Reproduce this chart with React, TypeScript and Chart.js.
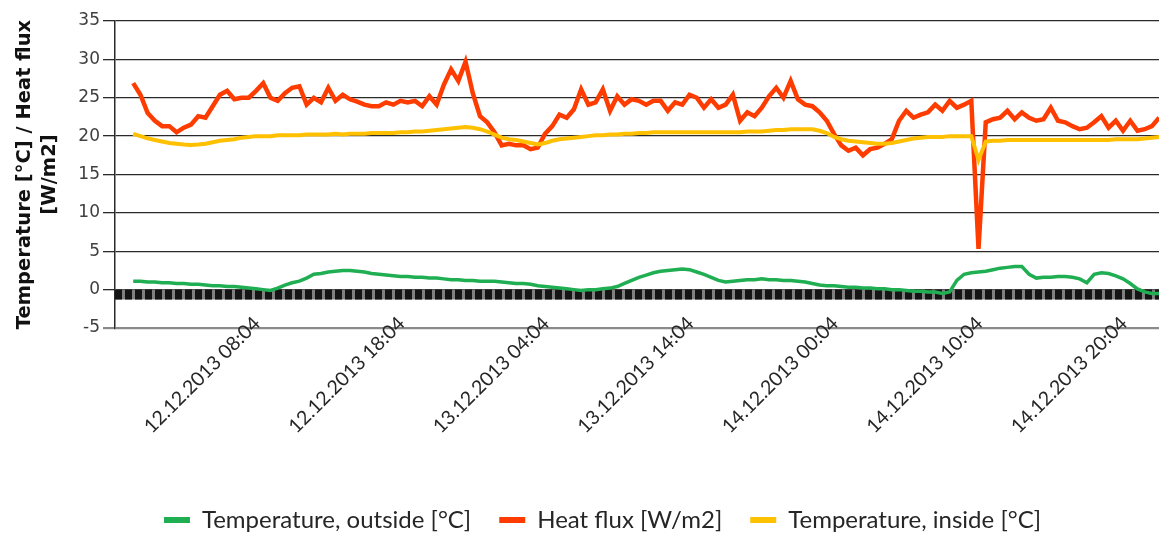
import React, { useEffect, useRef } from "react";
import { Chart, registerables } from "chart.js";

Chart.register(...registerables);

// Time axis: hours since 12.12.2013 00:00
const DATA_START_HOUR = -0.5;
const STEP_HOURS = 0.5;
const X_MIN_HOUR = -1.76;
const X_MAX_HOUR = 70.49;
const X_TICK_HOURS = [8.067, 18.067, 28.067, 38.067, 48.067, 58.067, 68.067];
const X_TICK_LABELS = [
  "12.12.2013 08:04",
  "12.12.2013 18:04",
  "13.12.2013 04:04",
  "13.12.2013 14:04",
  "14.12.2013 00:04",
  "14.12.2013 10:04",
  "14.12.2013 20:04",
];

const Y_MIN = -5;
const Y_MAX = 35;
const Y_STEP = 5;
const Y_TITLE = ["Temperature [°C] / Heat flux", "[W/m2]"];

const SERIES_NAMES = ["Temperature, outside [°C]", "Heat flux [W/m2]", "Temperature, inside [°C]"];
const SERIES_COLORS = ["#1fae52", "#ff3c00", "#ffc000"];

const TEMP_OUTSIDE = [
  1.1, 1.1, 1.0, 1.0, 0.9, 0.9, 0.8, 0.8, 0.7, 0.7,
  0.6, 0.5, 0.5, 0.4, 0.4, 0.3, 0.2, 0.1, 0.0, -0.1,
  0.2, 0.6, 0.9, 1.1, 1.5, 2.0, 2.1, 2.3, 2.4, 2.5,
  2.5, 2.4, 2.3, 2.1, 2.0, 1.9, 1.8, 1.7, 1.7, 1.6,
  1.6, 1.5, 1.5, 1.4, 1.3, 1.3, 1.2, 1.2, 1.1, 1.1,
  1.1, 1.0, 0.9, 0.8, 0.8, 0.7, 0.5, 0.4, 0.3, 0.2,
  0.1, 0.0, -0.1, 0.0, 0.0, 0.1, 0.2, 0.4, 0.8, 1.2,
  1.6, 1.9, 2.2, 2.4, 2.5, 2.6, 2.7, 2.6, 2.3, 2.0,
  1.6, 1.2, 1.0, 1.1, 1.2, 1.3, 1.3, 1.4, 1.3, 1.3,
  1.2, 1.2, 1.1, 1.0, 0.8, 0.6, 0.5, 0.5, 0.4, 0.3,
  0.3, 0.2, 0.2, 0.1, 0.1, 0.0, 0.0, -0.1, -0.2, -0.2,
  -0.3, -0.3, -0.5, -0.3, 1.2, 2.0, 2.2, 2.3, 2.4, 2.6,
  2.8, 2.9, 3.0, 3.0, 2.0, 1.5, 1.6, 1.6, 1.7, 1.7,
  1.6, 1.4, 0.9, 2.0, 2.2, 2.1, 1.8, 1.4, 0.8, 0.1,
  -0.3, -0.5, -0.5,
];

const HEAT_FLUX = [
  26.9, 25.4, 23.0, 22.0, 21.3, 21.3, 20.5, 21.1, 21.5, 22.6,
  22.4, 23.9, 25.4, 25.9, 24.8, 25.0, 25.0, 25.9, 26.9, 25.0,
  24.6, 25.6, 26.3, 26.5, 24.1, 25.0, 24.4, 26.3, 24.6, 25.4,
  24.8, 24.5, 24.1, 23.9, 23.9, 24.4, 24.1, 24.6, 24.4, 24.6,
  23.9, 25.2, 24.1, 26.7, 28.7, 27.2, 29.7, 25.6, 22.6, 21.8,
  20.5, 18.8, 19.0, 18.8, 18.8, 18.3, 18.5, 20.3, 21.3, 22.8,
  22.4, 23.5, 26.1, 24.1, 24.4, 26.1, 23.3, 25.2, 24.1, 24.8,
  24.6, 24.1, 24.6, 24.6, 23.3, 24.4, 24.1, 25.4, 25.0, 23.7,
  24.8, 23.7, 24.1, 25.4, 22.0, 23.1, 22.6, 23.7, 25.2, 26.3,
  25.0, 27.2, 24.8, 24.1, 23.9, 23.1, 22.0, 20.3, 18.8, 18.1,
  18.5, 17.5, 18.3, 18.5, 19.0, 19.6, 22.0, 23.3, 22.4, 22.8,
  23.1, 24.1, 23.3, 24.6, 23.7, 24.1, 24.6, 5.3, 21.8, 22.2,
  22.4, 23.3, 22.2, 23.1, 22.4, 22.0, 22.2, 23.7, 22.0, 21.8,
  21.3, 20.9, 21.1, 21.8, 22.6, 21.1, 22.0, 20.7, 22.0, 20.7,
  20.9, 21.3, 22.4,
];

const TEMP_INSIDE = [
  20.3, 20.0, 19.7, 19.5, 19.3, 19.1, 19.0, 18.9, 18.85, 18.9,
  19.0, 19.2, 19.4, 19.5, 19.6, 19.8, 19.9, 20.0, 20.0, 20.0,
  20.1, 20.1, 20.1, 20.1, 20.2, 20.2, 20.2, 20.2, 20.3, 20.2,
  20.3, 20.3, 20.3, 20.4, 20.4, 20.4, 20.4, 20.5, 20.5, 20.6,
  20.6, 20.7, 20.8, 20.9, 21.0, 21.1, 21.2, 21.1, 20.9, 20.6,
  20.2, 19.8, 19.6, 19.5, 19.3, 19.1, 18.9, 19.1, 19.4, 19.6,
  19.7, 19.8, 19.9, 20.0, 20.1, 20.1, 20.2, 20.2, 20.3, 20.3,
  20.4, 20.4, 20.5, 20.5, 20.5, 20.5, 20.5, 20.5, 20.5, 20.5,
  20.5, 20.5, 20.5, 20.5, 20.5, 20.6, 20.6, 20.6, 20.7, 20.8,
  20.8, 20.9, 20.9, 20.9, 20.9, 20.7, 20.4, 19.9, 19.6, 19.4,
  19.3, 19.2, 19.1, 19.0, 19.0, 19.1, 19.3, 19.5, 19.7, 19.8,
  19.9, 19.9, 19.9, 20.0, 20.0, 20.0, 20.0, 16.9, 19.3, 19.4,
  19.4, 19.5, 19.5, 19.5, 19.5, 19.5, 19.5, 19.5, 19.5, 19.5,
  19.5, 19.5, 19.5, 19.5, 19.5, 19.5, 19.6, 19.6, 19.6, 19.6,
  19.7, 19.8, 19.9,
];

// dark hatched base band just under the zero line
const BASE_BAND_VALUE = -0.65;

const LEGEND_SHIFT = 23;

function toPoints(values: number[]) {
  return values.map((v, i) => ({ x: DATA_START_HOUR + i * STEP_HOURS, y: v }));
}

export default function App() {
  const canvasRef = useRef<HTMLCanvasElement | null>(null);

  useEffect(() => {
    const canvas = canvasRef.current;
    if (!canvas) return;

    const legendShift = {
      id: "legendShift",
      afterLayout(chart: any) {
        const l = chart.legend;
        if (l) {
          l.left += LEGEND_SHIFT;
          l.right += LEGEND_SHIFT;
        }
      },
    };

    const bandPoints = [
      { x: X_MIN_HOUR, y: BASE_BAND_VALUE },
      { x: X_MAX_HOUR, y: BASE_BAND_VALUE },
    ];

    const chart = new Chart(canvas, {
      type: "line",
      data: {
        datasets: [
          {
            label: SERIES_NAMES[0],
            data: toPoints(TEMP_OUTSIDE),
            borderColor: SERIES_COLORS[0],
            backgroundColor: SERIES_COLORS[0],
            borderWidth: 3.5,
            pointRadius: 0,
            tension: 0,
            order: 2,
          },
          {
            label: SERIES_NAMES[1],
            data: toPoints(HEAT_FLUX),
            borderColor: SERIES_COLORS[1],
            backgroundColor: SERIES_COLORS[1],
            borderWidth: 4.5,
            pointRadius: 0,
            tension: 0,
            order: 1,
          },
          {
            label: SERIES_NAMES[2],
            data: toPoints(TEMP_INSIDE),
            borderColor: SERIES_COLORS[2],
            backgroundColor: SERIES_COLORS[2],
            borderWidth: 4,
            pointRadius: 0,
            tension: 0,
            order: 0,
          },
          {
            label: "band-bg",
            data: bandPoints,
            borderColor: "#808080",
            backgroundColor: "#808080",
            borderWidth: 10,
            pointRadius: 0,
            order: 4,
          },
          {
            label: "band",
            data: bandPoints,
            borderColor: "#141414",
            backgroundColor: "#141414",
            borderWidth: 10,
            borderDash: [7, 3],
            pointRadius: 0,
            order: 3,
          },
        ],
      },
      options: {
        responsive: false,
        animation: false,
        devicePixelRatio: 1,
        layout: { padding: { top: 21, right: 0, bottom: -8, left: 0 } },
        plugins: {
          tooltip: { enabled: false },
          legend: {
            position: "bottom",
            labels: {
              boxWidth: 26,
              boxHeight: 6,
              padding: 28,
              color: "#262626",
              font: { family: "Lato", size: 24 },
              filter: (item: any) => item.datasetIndex < 3,
              sort: (a: any, b: any) => a.datasetIndex - b.datasetIndex,
              generateLabels: (ch: any) =>
                (Chart.defaults.plugins.legend.labels.generateLabels as any)(ch).map((it: any) => ({
                  ...it,
                  lineWidth: 0,
                })),
            },
          },
        },
        scales: {
          x: {
            type: "linear",
            min: X_MIN_HOUR,
            max: X_MAX_HOUR,
            afterBuildTicks: (s: any) => {
              s.ticks = X_TICK_HOURS.map((v) => ({ value: v }));
            },
            afterFit: (s: any) => {
              s.height = 152;
              // let the rotated labels overlap the axis line, as in the original
              s._computeLabelArea = () => undefined;
            },
            ticks: {
              autoSkip: false,
              minRotation: 45,
              maxRotation: 45,
              padding: -24,
              color: "#262626",
              font: { family: "Lato", size: 19.5 },
              callback: (_v: any, i: number) => X_TICK_LABELS[i],
            },
            grid: { display: false },
            border: { display: false },
          },
          y: {
            min: Y_MIN,
            max: Y_MAX,
            afterFit: (s: any) => {
              s.width = 115;
            },
            ticks: {
              stepSize: Y_STEP,
              padding: 3,
              color: "#404040",
              font: { family: "DejaVu Sans", size: 17 },
            },
            grid: {
              color: (c: any) => (c.tick && c.tick.value === Y_MIN ? "#8a8a8a" : "#2a2a2a"),
              lineWidth: (c: any) => (c.tick && c.tick.value === Y_MIN ? 2.2 : 1.3),
              tickLength: 12,
            },
            border: { display: true, color: "#2a2a2a", width: 1.5 },
            title: {
              display: true,
              text: Y_TITLE,
              color: "#111111",
              font: { family: "DejaVu Sans", size: 19.5, weight: "bold", lineHeight: 1.3 },
              padding: { top: 12, bottom: 0 },
            },
          },
        },
      },
      plugins: [legendShift],
    });

    return () => chart.destroy();
  }, []);

  return (
    <div style={{ position: "fixed", left: 0, top: 0, width: 1159, height: 534, background: "#fff" }}>
      <canvas ref={canvasRef} width={1159} height={534} style={{ display: "block" }} />
    </div>
  );
}
